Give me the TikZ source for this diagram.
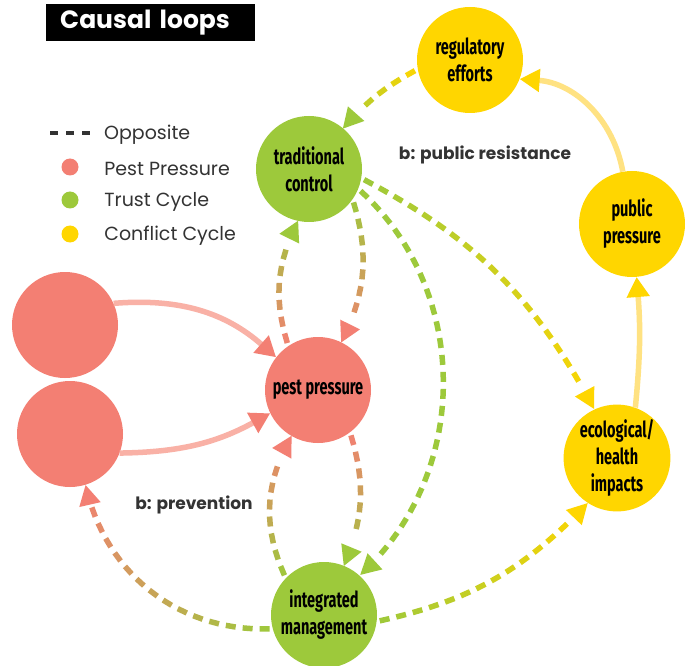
\documentclass[tikz,border=0pt]{standalone}
\usepackage{fontspec}
\setmainfont{Poppins}
\newfontfamily\condfont[FakeStretch=0.66]{Fira Sans}
\usetikzlibrary{positioning, arrows.meta, decorations.markings}
\definecolor{pestred}{HTML}{F37F73}
\definecolor{trustgreen}{HTML}{9DC93B}
\definecolor{conflictyellow}{HTML}{FFD600}
\definecolor{pestline}{HTML}{F9B1A6}
\definecolor{conflictline}{HTML}{FFE282}
\definecolor{textgray}{HTML}{333333}

\begin{document}
\begin{tikzpicture}[
    x=1pt, y=1pt,
    factor/.style={circle, inner sep=0pt, minimum size=106pt, align=center,
                   font=\condfont\bfseries\fontsize{22}{27}\selectfont},
    pest/.style={factor, fill=pestred},
    trust/.style={factor, fill=trustgreen},
    conflict/.style={factor, fill=conflictyellow},
    legtext/.style={anchor=west, inner sep=0pt, yshift=-2pt, text=textgray, font=\fontsize{19}{22}\selectfont},
    loopname/.style={text=textgray, font=\bfseries\fontsize{17}{20}\selectfont},
    link/.style 2 args={draw=#1, line width=5.5pt,
                        -{Triangle[length=20pt, width=22pt, color=#2]}},
    opplink/.style 2 args={decoration={markings,
        mark=between positions 8pt and -28pt step 17pt with {
            \pgfmathsetmacro\mixpct{\pgfkeysvalueof{/pgf/decoration/mark info/distance from start}/\pgfdecoratedpathlength*100}
            \draw[line width=5.5pt, #2!\mixpct!#1] (-5pt,0) -- (5pt,0);},
        mark=at position 0.995 with {\fill[#2] (1pt,0) -- (-19pt,11pt) -- (-19pt,-11pt) -- cycle;}},
        postaction={decorate}}
]
\fill[white] (0,0) rectangle (687,665);
\useasboundingbox (0,0) rectangle (687,665);

% --- Title and legend ---
\node[anchor=north west, fill=black, text=white, minimum height=37pt, text width=181pt,
      inner xsep=14pt, inner ysep=0pt, font=\bfseries\fontsize{25}{30}\selectfont] (title) at (46,661) {Causal loops};
\coordinate (oppa) at (50,532);
\coordinate (oppb) at (91,532);
\draw[textgray, line width=3.5pt, dash pattern=on 8pt off 8pt] (oppa) -- (oppb);
\node[legtext] (txtopp) at (104,532) {Opposite};
\node[circle, fill=pestred, minimum size=17pt, inner sep=0pt] (dotpest) at (70,498) {};
\node[circle, fill=trustgreen, minimum size=17pt, inner sep=0pt] (dottrust) at (70,465) {};
\node[circle, fill=conflictyellow, minimum size=17pt, inner sep=0pt] (dotconflict) at (70,431) {};
\node[legtext, right=25.5pt of dotpest] (txtpest) {Pest Pressure};
\node[legtext, right=25.5pt of dottrust] (txttrust) {Trust Cycle};
\node[legtext, right=25.5pt of dotconflict] (txtconflict) {Conflict Cycle};

% --- Factors ---
\node[conflict] (reg) at (470,605) {regulatory\\efforts};
\node[trust] (trad) at (309,496) {traditional\\control};
\node[conflict] (pub) at (632,441) {public\\pressure};
\node[pest] (pestp) at (318,275) {pest pressure};
\node[pest] (srcone) at (65,340) {};
\node[pest] (srctwo) at (70,231) {};
\node[trust] (integ) at (324,50) {integrated\\management};
\node[conflict] (eco) at (617,207) {ecological/\\health\\impacts};

% --- Solid links ---
\draw[link={pestline}{pestred}] (srcone.24) to[bend left=23] (pestp.142);
\draw[link={pestline}{pestred}] (srctwo.-21) to[bend right=14] (pestp.206);
\draw[link={conflictline}{conflictyellow}] (eco.70) to[bend right=5] (pub.275);
\draw[link={conflictline}{conflictyellow}] (pub.100) to[bend right=38] (reg.-21);

% --- Opposite links ---
\path[opplink={conflictyellow}{trustgreen}] (reg.190) to[bend right=10] (trad.50);
\path[opplink={trustgreen}{conflictyellow}] (trad.-10) to[bend left=17] (eco.115);
\path[opplink={trustgreen}{pestred}] (trad.-35) to[bend left=22] (pestp.64);
\path[opplink={trustgreen}{trustgreen}] (trad.-22) to[bend left=48] (integ.48);
\path[opplink={pestred}{trustgreen}] (pestp.124) to[bend left=22] (trad.258);
\path[opplink={pestred}{trustgreen}] (pestp.-53) to[bend left=20] (integ.68);
\path[opplink={trustgreen}{pestred}] (integ.136) to[bend left=27] (pestp.240);
\path[opplink={trustgreen}{pestred}] (integ.195) to[bend left=40] (srctwo.287);
\path[opplink={trustgreen}{conflictyellow}] (integ.-7) to[bend right=17] (eco.237);

% --- Loop names ---
\node[loopname] (resist) at (485,510) {b: public resistance};
\node[loopname] (prevent) at (194,160) {b: prevention};

\end{tikzpicture}
\end{document}
